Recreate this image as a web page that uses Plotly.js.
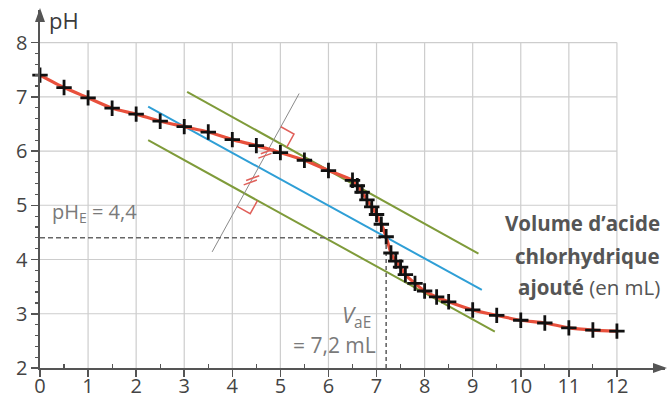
<!DOCTYPE html>
<html>
<head>
<meta charset="utf-8">
<script src="https://cdn.plot.ly/plotly-3.0.1.min.js"></script>
<style>html,body{margin:0;padding:0;background:#fff;}#chart{width:669px;height:403px;}</style>
</head>
<body>
<div id="chart"></div>
<script>
// ---- data ----
const volume = [0, 0.5, 1, 1.5, 2, 2.5, 3, 3.5, 4, 4.5, 5, 5.5, 6, 6.5, 6.6, 6.7, 6.8, 6.9, 7.0, 7.1, 7.2, 7.3, 7.4, 7.5, 7.6, 7.8, 8.0, 8.25, 8.5, 9, 9.5, 10, 10.5, 11, 11.5, 12];
const pH     = [7.40, 7.17, 6.98, 6.79, 6.68, 6.55, 6.45, 6.35, 6.21, 6.10, 5.97, 5.83, 5.64, 5.46, 5.36, 5.24, 5.10, 4.97, 4.83, 4.65, 4.42, 4.12, 3.97, 3.86, 3.72, 3.56, 3.42, 3.31, 3.22, 3.07, 2.97, 2.88, 2.83, 2.74, 2.70, 2.68];

const tangentUpperX = [3.06, 9.12];
const tangentUpperY = [7.09, 4.11];
const tangentLowerX = [2.25, 9.46];
const tangentLowerY = [6.20, 2.67];
const medianX = [2.25, 9.19];
const medianY = [6.82, 3.44];
const perpX = [3.58, 5.39];
const perpY = [4.14, 7.06];

const equivVolume = 7.2;
const equivPH = 4.4;

const xTickVals = [0,1,2,3,4,5,6,7,8,9,10,11,12];
const xTickText = ['0','1','2','3','4','5','6','7','8','9','10','11','12'];
const xMinorVals = [0.5,1.5,2.5,3.5,4.5,5.5,6.5,7.5,8.5,9.5,10.5,11.5];
const yTickVals = [2,3,4,5,6,7,8];
const yTickText = ['2','3','4','5','6','7','8'];
const yMinorVals = [2.2,2.4,2.6,2.8,3.2,3.4,3.6,3.8,4.2,4.4,4.6,4.8,5.2,5.4,5.6,5.8,6.2,6.4,6.6,6.8,7.2,7.4,7.6,7.8];

// ---- geometry ----
const W = 669, H = 403;
const M = {l: 40, r: 4, t: 10, b: 35};
const XR = [0, 13], YR = [2, 8.6];
const PW = W - M.l - M.r, PH = H - M.t - M.b;
const px = x => M.l + (x - XR[0]) / (XR[1] - XR[0]) * PW;
const py = y => M.t + (YR[1] - y) / (YR[1] - YR[0]) * PH;
const paperX = p => (p - M.l) / PW;
const paperY = p => (M.t + PH - p) / PH;
const pt = (p) => paperX(p[0]).toFixed(5) + ',' + paperY(p[1]).toFixed(5);

function lineInter(ax, ay, bx, by) {
  const a1 = [px(ax[0]), py(ay[0])], a2 = [px(ax[1]), py(ay[1])];
  const b1 = [px(bx[0]), py(by[0])], b2 = [px(bx[1]), py(by[1])];
  const d1 = [a2[0]-a1[0], a2[1]-a1[1]], d2 = [b2[0]-b1[0], b2[1]-b1[1]];
  const den = d1[0]*d2[1] - d1[1]*d2[0];
  const t = ((b1[0]-a1[0])*d2[1] - (b1[1]-a1[1])*d2[0]) / den;
  return [a1[0] + t*d1[0], a1[1] + t*d1[1]];
}
function unit(xs, ys) {
  const dx = px(xs[1]) - px(xs[0]), dy = py(ys[1]) - py(ys[0]);
  const n = Math.hypot(dx, dy);
  return [dx/n, dy/n];
}
const g = unit(perpX, perpY);
const v = unit(tangentUpperX, tangentUpperY);
const add = (p, q, s) => [p[0] + s*q[0], p[1] + s*q[1]];

const Pu = lineInter(perpX, perpY, tangentUpperX, tangentUpperY);
const Pm = lineInter(perpX, perpY, medianX, medianY);
const Pl = lineInter(perpX, perpY, tangentLowerX, tangentLowerY);
const s = 15;
const red = '#e0605a';
const shapes = [];

// grid
xTickVals.slice(1).forEach(x => shapes.push({type:'line', xref:'x', yref:'y', x0:x, x1:x, y0:2, y1:8, layer:'below', line:{color:'#cdcdcd', width:1.2}}));
yTickVals.slice(1).forEach(y => shapes.push({type:'line', xref:'x', yref:'y', x0:0, x1:12, y0:y, y1:y, layer:'below', line:{color:'#cdcdcd', width:1.2}}));

// right-angle marks
const sqU = [add(Pu, g, s), add(add(Pu, g, s), v, s), add(Pu, v, s)];
const sqL = [add(Pl, g, -s), add(add(Pl, g, -s), v, s), add(Pl, v, s)];
[sqU, sqL].forEach(q => shapes.push({type:'path', xref:'paper', yref:'paper',
  path: 'M' + pt(q[0]) + ' L' + pt(q[1]) + ' L' + pt(q[2]), line:{color:red, width:1.5}}));

// equal-length tick marks
const ang = -20 * Math.PI / 180;
const d = [Math.cos(ang), Math.sin(ang)];
[[(Pu[0]+Pm[0])/2, (Pu[1]+Pm[1])/2], [(Pm[0]+Pl[0])/2, (Pm[1]+Pl[1])/2]].forEach(c => {
  [-2.5, 2.5].forEach(o => {
    const cc = add(c, g, o);
    const a = add(cc, d, -7), b = add(cc, d, 7);
    shapes.push({type:'path', xref:'paper', yref:'paper', path:'M' + pt(a) + ' L' + pt(b), line:{color:red, width:1.5}});
  });
});

// axis arrows
const axc = '#555';
const ytip = [px(0), 8];
shapes.push({type:'path', xref:'paper', yref:'paper', fillcolor:axc, line:{width:0},
  path:'M' + pt(ytip) + ' L' + pt([ytip[0]-5, ytip[1]+14]) + ' L' + pt([ytip[0]+5, ytip[1]+14]) + ' Z'});
const xtip = [667, py(2)];
shapes.push({type:'path', xref:'paper', yref:'paper', fillcolor:axc, line:{width:0},
  path:'M' + pt(xtip) + ' L' + pt([xtip[0]-14, xtip[1]-5]) + ' L' + pt([xtip[0]-14, xtip[1]+5]) + ' Z'});

const traces = [
  {x: tangentUpperX, y: tangentUpperY, mode:'lines', line:{color:'#7f9b3a', width:2}, hoverinfo:'skip'},
  {x: tangentLowerX, y: tangentLowerY, mode:'lines', line:{color:'#7f9b3a', width:2}, hoverinfo:'skip'},
  {x: medianX, y: medianY, mode:'lines', line:{color:'#2f9fd6', width:2}, hoverinfo:'skip'},
  {x: perpX, y: perpY, mode:'lines', line:{color:'#8a8a8a', width:1}, hoverinfo:'skip'},
  {x: [0, equivVolume], y: [equivPH, equivPH], mode:'lines', line:{color:'#666', width:1.6, dash:'5px,3px'}, hoverinfo:'skip'},
  {x: [equivVolume, equivVolume], y: [2, equivPH], mode:'lines', line:{color:'#666', width:1.6, dash:'4px,3px'}, hoverinfo:'skip'},
  {x: volume, y: pH, mode:'lines+markers', line:{color:'#e8503c', width:3.2, shape:'spline', smoothing:0.6},
   marker:{symbol:'cross-thin', size:11, line:{color:'#111', width:2.8}}, cliponaxis:false}
];

const font = 'Open Sans, sans-serif';
const annotations = [
  {x:0, y:8.42, xref:'x', yref:'y', text:'pH', showarrow:false, xanchor:'left', xshift:7, yanchor:'middle', font:{family:font, size:22, color:'#3a3a3a'}},
  {x:0.2, y:4.86, xref:'x', yref:'y', text:'pH<sub>E</sub> = 4,4', showarrow:false, xanchor:'left', yanchor:'middle', font:{family:font, size:20, color:'#7a7a7a'}},
  {x:6.93, y:2.96, xref:'x', yref:'y', text:'<i>V</i><sub>aE</sub>', showarrow:false, xanchor:'right', yanchor:'middle', font:{family:font, size:22, color:'#7a7a7a'}},
  {x:7.02, y:2.42, xref:'x', yref:'y', text:'= 7,2 mL', showarrow:false, xanchor:'right', yanchor:'middle', font:{family:font, size:21, color:'#7a7a7a'}},
  {x:12.94, y:4.67, xref:'x', yref:'y', text:'<b>Volume d’acide</b>', showarrow:false, xanchor:'right', yanchor:'middle', font:{family:font, size:20.5, color:'#555'}},
  {x:12.94, y:4.06, xref:'x', yref:'y', text:'<b>chlorhydrique</b>', showarrow:false, xanchor:'right', yanchor:'middle', font:{family:font, size:20.5, color:'#555'}},
  {x:12.94, y:3.49, xref:'x', yref:'y', text:'<b>ajouté</b> (en mL)', showarrow:false, xanchor:'right', yanchor:'middle', font:{family:font, size:20.5, color:'#555'}}
];

const layout = {
  width: W, height: H, margin: M, paper_bgcolor:'#fff', plot_bgcolor:'#fff', showlegend:false,
  xaxis: {range: XR, showgrid:false, zeroline:false, showline:true, linecolor:axc, linewidth:1.6,
    tickmode:'array', tickvals:xTickVals, ticktext:xTickText, ticks:'outside', ticklen:7, tickwidth:1.5, tickcolor:axc,
    ticklabelstandoff:-8,
    minor:{tickmode:'array', tickvals:xMinorVals, ticks:'inside', ticklen:4, tickwidth:1.2, tickcolor:axc, showgrid:false},
    tickfont:{family:font, size:20, color:'#444'}, fixedrange:true},
  yaxis: {range: YR, showgrid:false, zeroline:false, showline:true, linecolor:axc, linewidth:1.6,
    tickmode:'array', tickvals:yTickVals, ticktext:yTickText, ticks:'outside', ticklen:7, tickwidth:1.5, tickcolor:axc,
    minor:{tickmode:'array', tickvals:yMinorVals, ticks:'outside', ticklen:3, tickwidth:1.2, tickcolor:axc, showgrid:false},
    tickfont:{family:font, size:20, color:'#444'}, fixedrange:true},
  shapes: shapes,
  annotations: annotations
};
Plotly.newPlot('chart', traces, layout, {displayModeBar:false, staticPlot:true});
</script>
</body>
</html>
